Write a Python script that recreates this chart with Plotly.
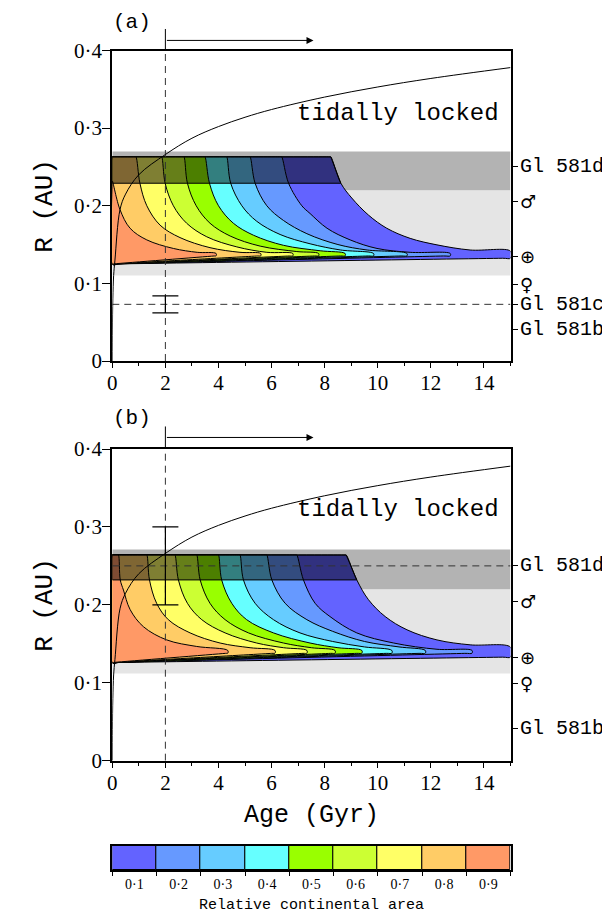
import plotly.graph_objects as go

# The page body has an 8 px margin: lay the figure out in page pixels and shift by it.
PAGE_OFF = 8
FIG_W, FIG_H = 610 - PAGE_OFF, 919 - PAGE_OFF

# ---------------- data ----------------
AGE_RANGE = [0, 15]
R_RANGE = [0, 0.4]
Y_TICKS = [0, 0.1, 0.2, 0.3, 0.4]
Y_TICK_LABELS = ["0", "0·1", "0·2", "0·3", "0·4"]

AREA_LEVELS = [0.1, 0.2, 0.3, 0.4, 0.5, 0.6, 0.7, 0.8, 0.9]
AREA_LABELS = ["0·1", "0·2", "0·3", "0·4", "0·5", "0·6", "0·7", "0·8", "0·9"]
AREA_COLORS = ["#6363ff", "#6699ff", "#66ccff", "#66ffff", "#99ff00",
               "#ccff33", "#ffff66", "#ffcc66", "#ff9966"]

# tidal-locking radius
TIDAL_AGE = [0.0, 0.005, 0.02, 0.05, 0.1, 0.29, 0.5, 1.0, 2.0, 3.0, 4.0, 5.0, 6.0, 8.0, 10.0, 12.0, 15.0]
TIDAL_R = [0.0, 0.04, 0.08, 0.11, 0.13, 0.195, 0.215, 0.240, 0.266, 0.287, 0.302, 0.314,
           0.324, 0.340, 0.353, 0.364, 0.378]

# ---- panel (a) ----
A_DARK_BAND = [0.22, 0.27]
A_LIGHT_BAND = [0.11, 0.22]
A_TOP = 0.263
A_LOW_LEFT = 0.125
A_LOW_RIGHT = 0.1325
A_TIP_LOW = 0.1355
A_CURVE_AGE = {
    0.1: [8.23, 8.61, 9.02, 9.65, 10.34, 11.22, 12.23, 13.48, 15.0],
    0.2: [6.38, 6.64, 7.14, 7.45, 8.09, 8.96, 9.97, 11.22, 12.73],
    0.3: [5.19, 5.38, 5.82, 6.45, 7.33, 8.5, 9.6, 11.1],
    0.4: [4.31, 4.46, 4.88, 5.44, 6.32, 7.45, 8.6, 9.84],
    0.5: [3.49, 3.66, 4.00, 4.56, 5.32, 6.45, 7.83, 8.77],
    0.6: [2.70, 2.83, 3.16, 3.68, 4.44, 5.57, 6.95, 7.77],
    0.7: [1.86, 1.99, 2.30, 2.80, 3.56, 4.69, 5.82, 6.80],
    0.8: [0.89, 1.04, 1.30, 1.80, 2.55, 3.68, 4.81, 5.59],
    0.9: [0.0, 0.29, 0.67, 1.30, 2.30, 3.2, 3.91],
}
A_CURVE_R = {
    0.1: [0.263, 0.229, 0.21, 0.188, 0.171, 0.158, 0.1496, 0.143, 0.1415],
    0.2: [0.263, 0.229, 0.2, 0.190, 0.171, 0.156, 0.145, 0.140, 0.1385],
    0.3: [0.263, 0.229, 0.2, 0.181, 0.164, 0.150, 0.143, 0.1385],
    0.4: [0.263, 0.229, 0.2, 0.18, 0.163, 0.151, 0.143, 0.1385],
    0.5: [0.263, 0.229, 0.2, 0.1775, 0.162, 0.149, 0.142, 0.1385],
    0.6: [0.263, 0.229, 0.2, 0.1775, 0.161, 0.148, 0.141, 0.1385],
    0.7: [0.263, 0.229, 0.2, 0.1775, 0.160, 0.147, 0.140, 0.1385],
    0.8: [0.263, 0.229, 0.2, 0.175, 0.159, 0.146, 0.140, 0.1385],
    0.9: [0.232, 0.195, 0.171, 0.156, 0.145, 0.140, 0.1385],
}
A_PLANET_R = [0.25, 0.205, 0.134, 0.098, 0.073, 0.041]
A_PLANET_LABELS = ["Gl 581d", "♂", "⊕", "♀", "Gl 581c", "Gl 581b"]
A_PLANET_AGE = 2.0
A_PLANET_VAL = 0.073
A_PLANET_ERR = 0.011
A_ARROW_R = 0.413
A_VLINE_TOP = 0.4277
ARROW_START = 2.0
ARROW_END = 7.58
TEXT_AGE = 10.76
A_TEXT_R = 0.319

# ---- panel (b) ----
B_DARK_BAND = [0.22, 0.271]
B_LIGHT_BAND = [0.112, 0.22]
B_TOP = 0.264
B_LOW_LEFT = 0.126
B_LOW_RIGHT = 0.133
B_TIP_LOW = 0.138
B_CURVE_AGE = {
    0.1: [8.81, 9.21, 9.65, 10.28, 11.1, 12.23, 13.48, 15.0],
    0.2: [6.95, 7.20, 7.64, 8.20, 9.21, 10.6, 12.23, 13.55],
    0.3: [5.82, 6.01, 6.51, 7.33, 8.3, 9.5, 10.8, 11.79],
    0.4: [4.81, 4.94, 5.38, 6.07, 7.07, 8.3, 9.5, 10.53],
    0.5: [4.0, 4.12, 4.50, 5.06, 6.07, 7.45, 8.5, 9.40],
    0.6: [3.18, 3.31, 3.68, 4.25, 5.13, 6.45, 7.5, 8.39],
    0.7: [2.36, 2.49, 2.83, 3.37, 4.25, 5.44, 6.45, 7.33],
    0.8: [1.30, 1.40, 1.67, 2.11, 2.93, 4.06, 5.19, 6.13],
    0.9: [0.23, 0.30, 0.42, 0.67, 1.17, 2.05, 3.18, 4.35],
}
B_CURVE_R = {
    0.1: [0.264, 0.232, 0.2066, 0.185, 0.168, 0.155, 0.1487, 0.1457],
    0.2: [0.264, 0.232, 0.202, 0.185, 0.164, 0.151, 0.143, 0.1415],
    0.3: [0.264, 0.232, 0.202, 0.181, 0.166, 0.153, 0.146, 0.1415],
    0.4: [0.264, 0.232, 0.202, 0.181, 0.164, 0.153, 0.146, 0.1415],
    0.5: [0.264, 0.232, 0.202, 0.181, 0.164, 0.151, 0.145, 0.1415],
    0.6: [0.264, 0.232, 0.202, 0.181, 0.164, 0.151, 0.145, 0.1415],
    0.7: [0.264, 0.232, 0.202, 0.181, 0.164, 0.151, 0.145, 0.1415],
    0.8: [0.264, 0.232, 0.202, 0.181, 0.164, 0.151, 0.145, 0.1415],
    0.9: [0.264, 0.232, 0.219, 0.194, 0.172, 0.155, 0.1466, 0.1415],
}
B_PLANET_R = [0.25, 0.204, 0.133, 0.0995, 0.0416]
B_PLANET_LABELS = ["Gl 581d", "♂", "⊕", "♀", "Gl 581b"]
B_PLANET_AGE = 2.0
B_PLANET_VAL = 0.25
B_PLANET_ERR = 0.05
B_ARROW_R = 0.4148
B_VLINE_TOP = 0.4289
B_TEXT_R = 0.322

# ---------------- layout geometry (page pixels) ----------------
def px_x(p):
    return (p - PAGE_OFF) / FIG_W


def px_y(p):
    return 1 - (p - PAGE_OFF) / FIG_H


X_DOMAIN = [px_x(112.3), px_x(510.5)]
A_DOMAIN = [px_y(361.0), px_y(50.5)]
B_DOMAIN = [px_y(760.7), px_y(449.0)]
CB_DOMAIN = [px_y(870.0), px_y(846.0)]
A_LABEL_Y = px_y(22)
B_LABEL_Y = px_y(418)

SERIF = "Liberation Serif"
MONO = "Liberation Mono"
SYMB = "DejaVu Sans"
EPS = 0.03

fig = go.Figure()


def r_to_paper(r, dom):
    return dom[0] + (r - R_RANGE[0]) / (R_RANGE[1] - R_RANGE[0]) * (dom[1] - dom[0])


def region_path(a, r, top, low, end_low):
    xs, ys = [0.0], [low]
    if a[0] > 0:
        xs += [0.0, EPS, a[0] - EPS]
        ys += [top, top, top]
    else:
        xs += [0.0]
        ys += [r[0] - 0.004]
    xs += list(a)
    ys += list(r)
    xs.append(a[-1])
    ys.append(end_low)
    for f in (0.02, 0.98):  # keep the lower edge straight under spline smoothing
        xs.append(a[-1] * (1 - f))
        ys.append(end_low + f * (low - end_low))
    xs.append(0.0)
    ys.append(low)
    return xs, ys


def add_panel(xa, ya, ages, rs, top, low_left, low_right, tip_low,
              dark_band, light_band, dashed_r, pl_age, pl_val, pl_err):
    for band, col in ((light_band, "#e5e5e5"), (dark_band, "#b3b3b3")):
        fig.add_shape(type="rect", xref=xa, yref=ya, x0=AGE_RANGE[0], x1=AGE_RANGE[1],
                      y0=band[0], y1=band[1], fillcolor=col, line_width=0, layer="below")
    for lvl, col in zip(AREA_LEVELS, AREA_COLORS):
        a = ages[lvl]
        end_low = low_right if a[-1] >= AGE_RANGE[1] else tip_low
        px, py = region_path(a, rs[lvl], top, low_left, end_low)
        fig.add_trace(go.Scatter(x=px, y=py, xaxis=xa, yaxis=ya, mode="lines",
                                 fill="toself", fillcolor=col,
                                 line=dict(color="black", width=1, shape="spline", smoothing=1),
                                 hoverinfo="skip"))
    # darkened top strip over the coloured area
    o = ages[AREA_LEVELS[0]]
    orr = rs[AREA_LEVELS[0]]
    fig.add_trace(go.Scatter(x=[0, 0, o[0], o[1], 0], y=[orr[1], orr[0], orr[0], orr[1], orr[1]],
                             xaxis=xa, yaxis=ya, mode="lines", fill="toself",
                             fillcolor="rgba(0,0,0,0.5)", line=dict(color="black", width=1),
                             hoverinfo="skip"))
    # dashed guides
    fig.add_trace(go.Scatter(x=[ARROW_START, ARROW_START], y=R_RANGE, xaxis=xa, yaxis=ya,
                             mode="lines", line=dict(color="#333333", width=1, dash="7px,5px"),
                             hoverinfo="skip"))
    fig.add_trace(go.Scatter(x=AGE_RANGE, y=[dashed_r, dashed_r], xaxis=xa, yaxis=ya,
                             mode="lines", line=dict(color="#333333", width=1, dash="7px,5px"),
                             hoverinfo="skip"))
    # tidal locking curve
    fig.add_trace(go.Scatter(x=TIDAL_AGE, y=TIDAL_R, xaxis=xa, yaxis=ya, mode="lines",
                             line=dict(color="black", width=1, shape="spline"), hoverinfo="skip"))
    # planet age/distance error bar
    fig.add_trace(go.Scatter(x=[pl_age], y=[pl_val], xaxis=xa, yaxis=ya, mode="markers",
                             marker=dict(size=1, color="rgba(0,0,0,0)"),
                             error_y=dict(type="data", array=[pl_err], width=13,
                                          thickness=1.2, color="black"),
                             hoverinfo="skip"))


add_panel("x", "y", A_CURVE_AGE, A_CURVE_R, A_TOP, A_LOW_LEFT, A_LOW_RIGHT, A_TIP_LOW,
          A_DARK_BAND, A_LIGHT_BAND, A_PLANET_VAL, A_PLANET_AGE, A_PLANET_VAL, A_PLANET_ERR)
add_panel("x2", "y3", B_CURVE_AGE, B_CURVE_R, B_TOP, B_LOW_LEFT, B_LOW_RIGHT, B_TIP_LOW,
          B_DARK_BAND, B_LIGHT_BAND, B_PLANET_VAL, B_PLANET_AGE, B_PLANET_VAL, B_PLANET_ERR)

# dummy traces for right-hand axes
fig.add_trace(go.Scatter(x=[None], y=[None], xaxis="x", yaxis="y2", showlegend=False))
fig.add_trace(go.Scatter(x=[None], y=[None], xaxis="x2", yaxis="y4", showlegend=False))

# colour bar
fig.add_trace(go.Bar(x=AREA_LEVELS, y=[1] * len(AREA_LEVELS), width=0.1, xaxis="x3", yaxis="y5",
                     marker=dict(color=AREA_COLORS, line=dict(color="black", width=1)),
                     hoverinfo="skip"))

# arrows, panel letters, titles
for xa, ya, dom, arr_r, vtop, lab, lab_y, txt_r, pr, plab in (
        ("x", "y", A_DOMAIN, A_ARROW_R, A_VLINE_TOP, "(a)", A_LABEL_Y, A_TEXT_R,
         A_PLANET_R, A_PLANET_LABELS),
        ("x2", "y3", B_DOMAIN, B_ARROW_R, B_VLINE_TOP, "(b)", B_LABEL_Y, B_TEXT_R,
         B_PLANET_R, B_PLANET_LABELS)):
    fig.add_shape(type="line", xref=xa, yref="paper", x0=ARROW_START, x1=ARROW_START,
                  y0=r_to_paper(R_RANGE[1], dom), y1=r_to_paper(vtop, dom),
                  line=dict(color="black", width=1))
    fig.add_annotation(x=ARROW_END, y=r_to_paper(arr_r, dom), xref=xa, yref="paper",
                       ax=ARROW_START, ay=0, axref=xa, ayref="pixel", text="",
                       showarrow=True, arrowhead=2, arrowsize=1.4, arrowwidth=1, arrowcolor="black")
    fig.add_annotation(x=px_x(132), y=lab_y, xref="paper", yref="paper",
                       text=lab, showarrow=False, xanchor="center", yanchor="middle",
                       font=dict(family=MONO, size=21, color="black"))
    fig.add_annotation(x=TEXT_AGE, y=txt_r, xref=xa, yref=ya, text="tidally locked",
                       showarrow=False, xanchor="center", yanchor="middle",
                       font=dict(family=MONO, size=24, color="black"))
    fig.add_annotation(x=px_x(45), y=(dom[0] + dom[1]) / 2, xref="paper", yref="paper",
                       text="R (AU)", textangle=-90, showarrow=False,
                       xanchor="center", yanchor="middle",
                       font=dict(family=MONO, size=26, color="black"))
    for rv, txt in zip(pr, plab):
        is_sym = len(txt) == 1
        fig.add_annotation(x=px_x(519), y=rv, xref="paper", yref=ya, text=txt, showarrow=False,
                           xanchor="left", yanchor="middle", borderpad=0,
                           font=dict(family=SYMB if is_sym else MONO,
                                     size=(18 if is_sym else 20), color="black"))

fig.add_annotation(x=(X_DOMAIN[0] + X_DOMAIN[1]) / 2, y=px_y(815), xref="paper", yref="paper",
                   text="Age (Gyr)", showarrow=False, xanchor="center", yanchor="middle",
                   font=dict(family=MONO, size=25, color="black"))
fig.add_annotation(x=(X_DOMAIN[0] + X_DOMAIN[1]) / 2, y=px_y(905), xref="paper", yref="paper",
                   text="Relative continental area", showarrow=False,
                   xanchor="center", yanchor="middle",
                   font=dict(family=MONO, size=15, color="black"))


def xaxis_def(anchor):
    return dict(domain=X_DOMAIN, range=AGE_RANGE, anchor=anchor, showline=True, linecolor="black",
                linewidth=2, mirror=True, ticks="outside", ticklen=5, tickwidth=1, tickcolor="black",
                tickmode="linear", tick0=0, dtick=2, ticklabelstandoff=-3,
                tickfont=dict(family=SERIF, size=21, color="black"),
                minor=dict(tickmode="linear", tick0=0, dtick=1, ticks="outside", ticklen=3,
                           tickcolor="black", tickwidth=1, showgrid=False),
                showgrid=False, zeroline=False, automargin=False)


def yaxis_def(dom, anchor):
    return dict(domain=dom, range=R_RANGE, anchor=anchor, showline=True, linecolor="black",
                linewidth=2, mirror=True, ticks="outside", ticklen=8, tickwidth=1, tickcolor="black",
                tickmode="array", tickvals=Y_TICKS, ticktext=Y_TICK_LABELS, ticklabelstandoff=-4,
                tickfont=dict(family=SERIF, size=21, color="black"),
                showgrid=False, zeroline=False, automargin=False)


def yright_def(over, anchor, vals):
    return dict(overlaying=over, anchor=anchor, side="right", range=R_RANGE, showline=False,
                ticks="outside", ticklen=6, tickwidth=1, tickcolor="black",
                tickmode="array", tickvals=vals, showticklabels=False,
                showgrid=False, zeroline=False, automargin=False)


CB_BOUNDS = [lv - 0.05 for lv in AREA_LEVELS] + [AREA_LEVELS[-1] + 0.05]

fig.update_layout(
    width=FIG_W, height=FIG_H, template="none", showlegend=False,
    margin=dict(l=0, r=0, t=0, b=0), paper_bgcolor="white", plot_bgcolor="white",
    xaxis=xaxis_def("y"),
    yaxis=yaxis_def(A_DOMAIN, "x"),
    yaxis2=yright_def("y", "x", A_PLANET_R),
    xaxis2=xaxis_def("y3"),
    yaxis3=yaxis_def(B_DOMAIN, "x2"),
    yaxis4=yright_def("y3", "x2", B_PLANET_R),
    xaxis3=dict(domain=X_DOMAIN, range=[CB_BOUNDS[0], CB_BOUNDS[-1]], anchor="y5", showline=True,
                linecolor="black", linewidth=2, mirror=True, ticks="", tickmode="array",
                tickvals=AREA_LEVELS, ticktext=AREA_LABELS,
                tickfont=dict(family=SERIF, size=14, color="black"),
                minor=dict(tickmode="array", tickvals=CB_BOUNDS, ticks="outside", ticklen=4,
                           tickcolor="black", tickwidth=1, showgrid=False),
                showgrid=False, zeroline=False, automargin=False),
    yaxis5=dict(domain=CB_DOMAIN, range=[0, 1], anchor="x3", showline=True, linecolor="black",
                linewidth=2, mirror=True, ticks="", showticklabels=False, showgrid=False,
                zeroline=False, automargin=False),
    bargap=0,
)

fig.write_html("out.html")
